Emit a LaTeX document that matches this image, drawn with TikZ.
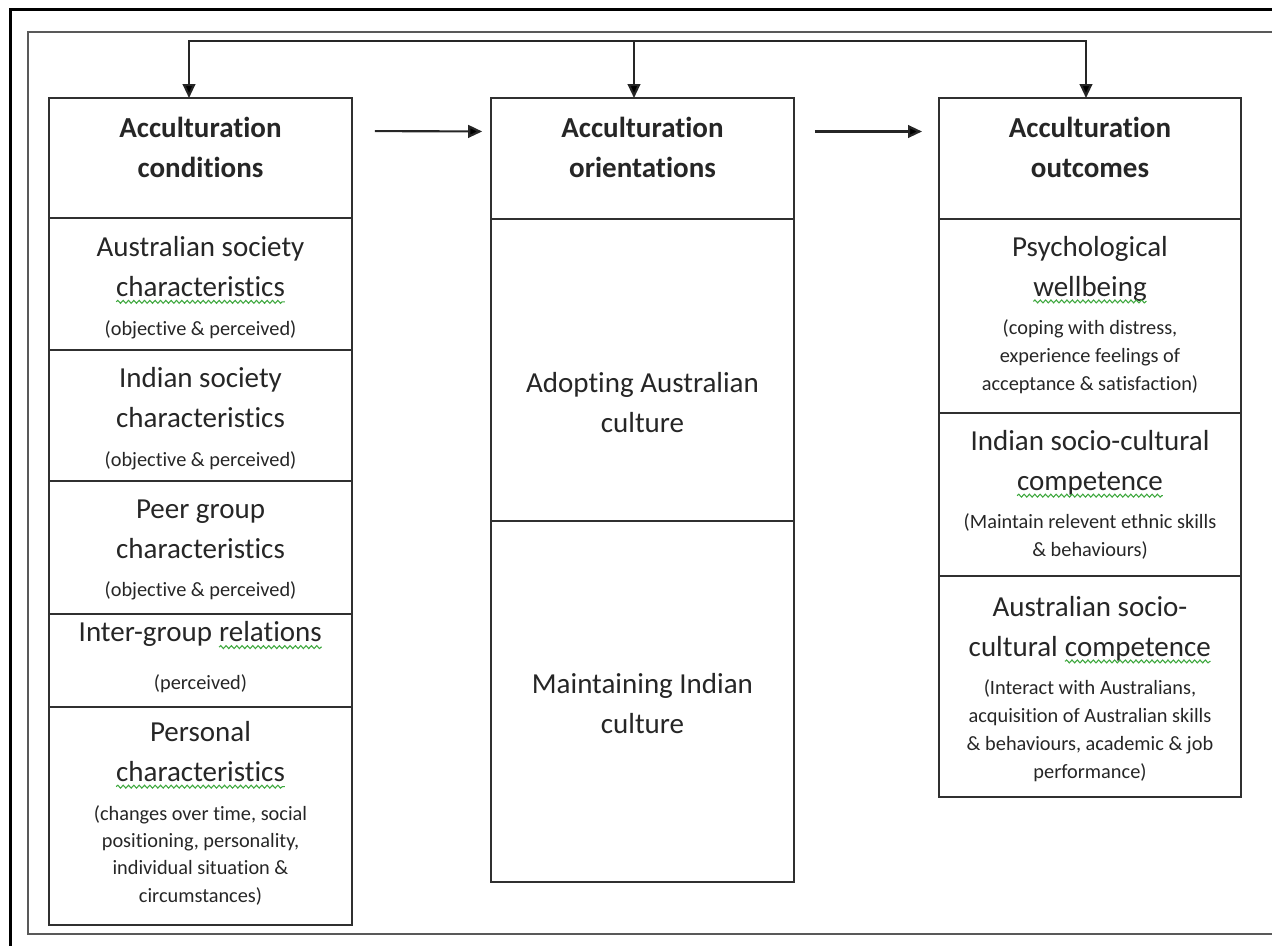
\documentclass[tikz,border=0pt]{standalone}
\usepackage{fontspec}
\setmainfont{Carlito}[Ligatures=NoCommon]
\usetikzlibrary{arrows.meta,decorations.pathmorphing}

\definecolor{ink}{HTML}{262626}
\definecolor{rule}{HTML}{303030}
\definecolor{spell}{HTML}{3FA83F}

% green spell-check squiggle under a word
\newcommand{\gwave}[1]{\tikz[baseline=(w.base)]{\node[inner sep=0pt, outer sep=0pt] (w) {#1};
    \draw[spell, line width=0.8pt, decorate, decoration={snake, amplitude=1.1pt, segment length=4pt}]
      ([yshift=-4pt]w.base west) -- ([yshift=-4pt]w.base east);}}
\newcommand{\sm}[1]{{\fontsize{15.25}{21}\selectfont #1}}

\begin{document}
\begin{tikzpicture}[x=0.75pt, y=-0.75pt,
    fat/.tip={Triangle[length=10.5pt,width=9.5pt]},
    cell/.style={draw=rule, line width=1.5pt, outer sep=0pt, inner sep=0pt, minimum width=227pt},
    head/.style={align=center, text=ink, font=\fontsize{21.75}{29.5}\selectfont\bfseries},
    body/.style={align=center, text=ink, font=\fontsize{21.75}{30}\selectfont},
    arr/.style={draw=ink, line width=1.6pt, -fat}]
    \useasboundingbox (0,0) rectangle (1272,946);
    % frames
    \draw[black, line width=2.25pt] (10,946) -- (10,9) -- (1272,9);
    \draw[gray!70!black, line width=1.1pt] (1272,32) -- (28,32) -- (28,934) -- (1272,934);

    % conditions column
    \node[cell, minimum height=90pt] (condH) at (200.5,158) {};
    \node[cell, minimum height=99pt] (condAus) at (200.5,284) {};
    \node[cell, minimum height=98.25pt] (condInd) at (200.5,415.5) {};
    \node[cell, minimum height=99.75pt] (condPeer) at (200.5,547.5) {};
    \node[cell, minimum height=69.75pt] (condInter) at (200.5,660.5) {};
    \node[cell, minimum height=163.5pt] (condPers) at (200.5,816) {};
    \node[head] (condHt) at (200.5,147.5) {Acculturation\\conditions};
    \node[body] (condAust) at (200.5,287.5) {Australian society\\\gwave{characteristics}\\[-1pt]\sm{(objective \& perceived)}};
    \node[body] (condIndt) at (200.5,418.5) {Indian society\\characteristics\\[-1pt]\sm{(objective \& perceived)}};
    \node[body] (condPeert) at (200.5,550) {Peer group\\characteristics\\[-1pt]\sm{(objective \& perceived)}};
    \node[body] (condIntert) at (200.5,657) {Inter-group \gwave{relations}\\[5.5pt]\sm{(perceived)}};
    \node[body] (condPerst) at (200.5,813) {Personal\\\gwave{characteristics}\\[-1pt]\sm{(changes over time, social}\\[-9.5pt]\sm{positioning, personality,}\\[-9.5pt]\sm{individual situation \&}\\[-9.5pt]\sm{circumstances)}};

    % orientations column
    \node[cell, minimum height=90.75pt] (oriH) at (642.5,158.5) {};
    \node[cell, minimum height=226.5pt] (oriAdopt) at (642.5,370) {};
    \node[cell, minimum height=270.75pt] (oriMaint) at (642.5,701.5) {};
    \node[head] (oriHt) at (642.5,147.5) {Acculturation\\orientations};
    \node[body] (oriAdoptt) at (642.5,402.5) {Adopting Australian\\culture};
    \node[body] (oriMaintt) at (642.5,704) {Maintaining Indian\\culture};

    % outcomes column
    \node[cell, minimum height=90.75pt] (outH) at (1090,158.5) {};
    \node[cell, minimum height=145.5pt] (outPsy) at (1090,316) {};
    \node[cell, minimum height=122.25pt] (outInd) at (1090,494.5) {};
    \node[cell, minimum height=165.75pt] (outAus) at (1090,686.5) {};
    \node[head] (outHt) at (1090,147.5) {Acculturation\\outcomes};
    \node[body] (outPsyt) at (1090,315) {Psychological\\\gwave{wellbeing}\\[-1pt]\sm{(coping with distress,}\\[-9pt]\sm{experience feelings of}\\[-9pt]\sm{acceptance \& satisfaction)}};
    \node[body] (outIndt) at (1090,495) {Indian socio-cultural\\\gwave{competence}\\[-1pt]\sm{(Maintain relevent ethnic skills}\\[-9pt]\sm{\& behaviours)}};
    \node[body] (outAust) at (1090,689) {Australian socio-\\cultural \gwave{competence}\\[-1pt]\sm{(Interact with Australians,}\\[-9pt]\sm{acquisition of Australian skills}\\[-9pt]\sm{\& behaviours, academic \& job}\\[-9pt]\sm{performance)}};

    % flow between columns
    \draw[arr, shorten <=17.25pt, shorten >=6.75pt] ([yshift=20.25pt]condH.east) -- ([yshift=20.25pt]oriH.west);
    \draw[arr, shorten <=15.75pt, shorten >=12.5pt] ([yshift=20.25pt]oriH.east) -- ([yshift=20.25pt]outH.west);

    % feedback loop over the top
    \coordinate (loopL) at (189,41);
    \coordinate (loopM) at (634,41);
    \coordinate (loopR) at (1086,41);
    \draw[arr, fat-fat] (loopL |- condH.north) -- (loopL) -- (loopR) -- (loopR |- outH.north);
    \draw[arr] (loopM) -- (loopM |- oriH.north);
\end{tikzpicture}
\end{document}
